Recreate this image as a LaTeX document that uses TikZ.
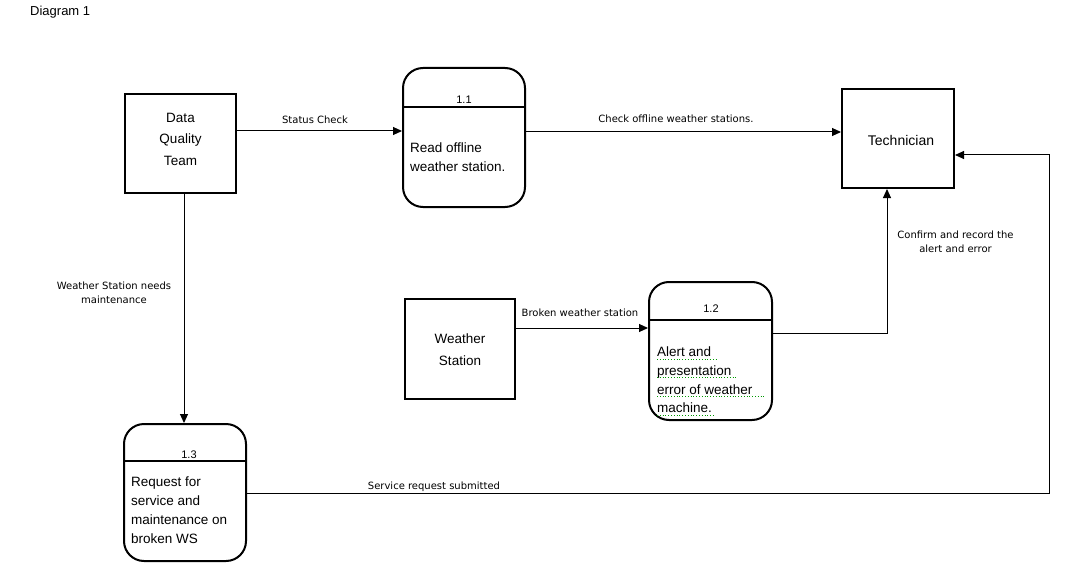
\documentclass[tikz,border=0pt]{standalone}
\usepackage{fontspec}
\setmainfont{Liberation Sans}
\newfontfamily\lblfont{DejaVu Sans}
\usetikzlibrary{arrows.meta,calc}
\begin{document}
\begin{tikzpicture}[x=1pt,y=-1pt,
  ext/.style={draw,line width=2pt,minimum width=#1,inner sep=0pt},
  proc/.style={draw,line width=2pt,rounded corners=20pt,inner sep=0pt},
  boxtxt/.style={font=\fontsize{13.5}{21.5}\selectfont,align=center,inner sep=0pt},
  ptxt/.style={font=\fontsize{13.5}{18.8}\selectfont,align=left,anchor=north west,inner sep=0pt},
  lbl/.style={font=\lblfont\fontsize{10}{14}\selectfont,align=center,inner sep=0pt},
  num/.style={font=\fontsize{11}{13}\selectfont,inner sep=0pt},
  arr/.style={line width=1pt,-{Triangle[length=9pt,width=8pt]}},
  spell/.style={green!60!black,line width=0.8pt,dotted}
]
\useasboundingbox (0,0) rectangle (1067,580);
\fill[white] (0,0) rectangle (1067,580);

\node[font=\fontsize{13}{15}\selectfont,anchor=west,inner sep=0pt] (title) at (30,12) {Diagram 1};

% external entities
\node[ext=111pt,minimum height=99pt] (dqt) at (180.5,143.5) {};
\node[boxtxt] (dqtt) at (180.5,139) {Data\\Quality\\Team};
\node[ext=112pt,minimum height=99pt] (tech) at (898,138.5) {};
\node[boxtxt,font=\fontsize{14}{18}\selectfont] (techt) at (901,140) {Technician};
\node[ext=110pt,minimum height=100pt] (ws) at (460,349) {};
\node[boxtxt,font=\fontsize{13.5}{22}\selectfont] (wst) at (460,350) {Weather\\Station};

% processes
\node[proc,minimum width=122pt,minimum height=139pt] (p11) at (464,137.5) {};
\draw[line width=2pt] ($(p11.north west)+(0,40)$) -- ($(p11.north east)+(0,40)$);
\node[num] (n11) at (464,100) {1.1};
\node[ptxt] (t11) at (410,143) {Read offline\\weather station.};

\node[proc,minimum width=123pt,minimum height=138pt] (p12) at (710.5,351) {};
\draw[line width=2pt] ($(p12.north west)+(0,39)$) -- ($(p12.north east)+(0,39)$);
\node[num] (n12) at (711,309) {1.2};
\node[ptxt] (t12) at (657,346.5) {Alert and\\presentation\\error of weather\\machine.};
\draw[spell] (657,359) -- (717,359);
\draw[spell] (657,377.8) -- (737,377.8);
\draw[spell] (657,396.6) -- (764,396.6);
\draw[spell] (657,415.4) -- (714,415.4);

\node[proc,minimum width=122pt,minimum height=137pt] (p13) at (185,492.5) {};
\draw[line width=2pt] ($(p13.north west)+(0,38)$) -- ($(p13.north east)+(0,38)$);
\node[num] (n13) at (189,455) {1.3};
\node[ptxt] (t13) at (131,477) {Request for\\service and\\maintenance on\\broken WS};

% connectors
\draw[arr] (dqt.east |- 0,131) -- (p11.west |- 0,131);
\node[lbl] (l1) at (315,120) {Status Check};
\draw[arr] (p11.east |- 0,132) -- (tech.west |- 0,132);
\node[lbl] (l2) at (676,119) {Check offline weather stations.};
\draw[arr] (ws.east |- 0,328) -- (p12.west |- 0,328);
\node[lbl] (l3) at (580,313) {Broken weather station};
\draw[arr] (p12.east |- 0,333) -| (tech.south -| 887,0);
\node[lbl] (l4) at (955.5,241.5) {Confirm and record the\\alert and error};
\draw[arr] (dqt.south -| 184,0) -- (p13.north -| 184,0);
\node[lbl] (l5) at (114,292.5) {Weather Station needs\\maintenance};
\coordinate (c1) at (1049,493);
\draw[arr] (p13.east |- 0,493) -- (c1) |- (tech.east |- 0,155);
\node[lbl] (l6) at (434,487) {Service request submitted};
\end{tikzpicture}
\end{document}
